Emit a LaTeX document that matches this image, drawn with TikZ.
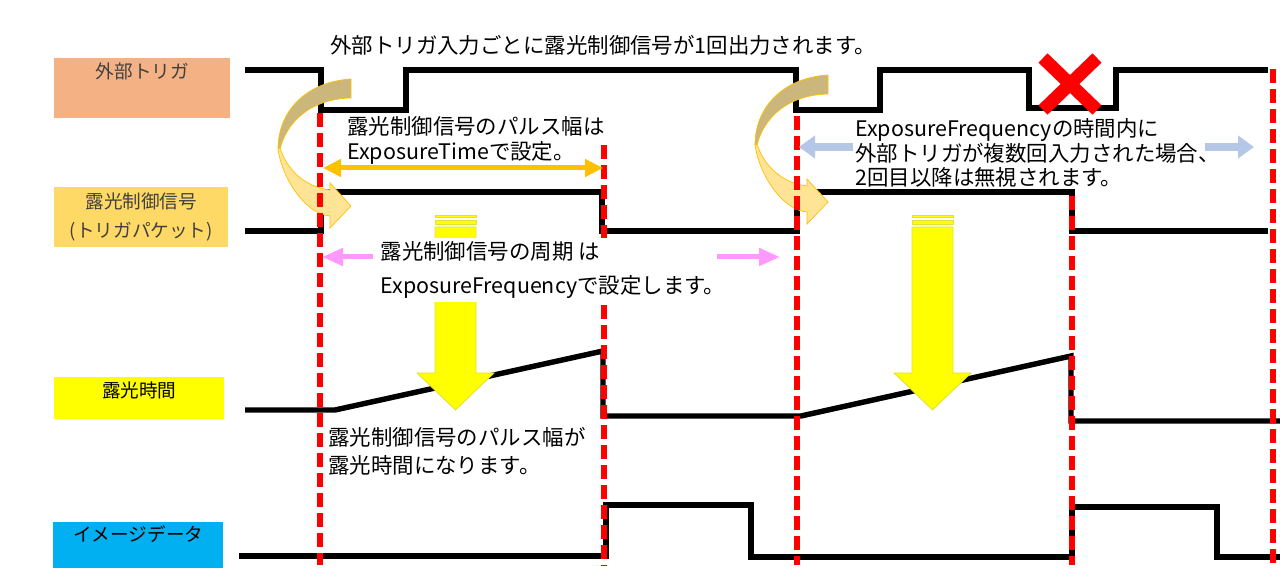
\documentclass[tikz,border=0pt]{standalone}
\usepackage{fontspec}
\newfontfamily\jpfont{Noto Sans CJK JP}
\usetikzlibrary{arrows.meta,positioning}

\definecolor{trigcol}{RGB}{244,177,131}
\definecolor{ctrlcol}{RGB}{255,217,102}
\definecolor{expcol}{RGB}{255,255,0}
\definecolor{imgcol}{RGB}{0,176,240}
\definecolor{pulsecol}{RGB}{255,192,0}
\definecolor{freqcol}{RGB}{255,153,255}
\definecolor{ignorecol}{RGB}{180,199,231}
\definecolor{backcol}{RGB}{203,182,124}
\definecolor{frontcol}{RGB}{255,228,150}
\definecolor{yedge}{RGB}{225,225,60}
\definecolor{txtgray}{RGB}{64,64,64}

\tikzset{
  box/.style={anchor=north west, inner sep=0pt},
  lbl/.style={font=\jpfont\fontsize{10.6pt}{16.5pt}\selectfont, inner sep=0pt, align=center},
  note/.style={font=\jpfont\fontsize{12.2pt}{#1}\selectfont, inner sep=0pt, align=left, anchor=west},
  note/.default=14.2pt,
  wave/.style={line width=3.1pt, line join=miter},
  cutline/.style={red, line width=2.9pt, dash pattern=on 0.28cm off 0.12cm},
  yarrow/.style={fill=expcol, draw=yedge, line width=0.5pt},
  pulsearrow/.style={pulsecol, line width=0.1cm, {Triangle[length=0.36cm,width=0.34cm]}-{Triangle[length=0.36cm,width=0.34cm]}},
  freqarrow/.style={freqcol, line width=0.1cm, -{Triangle[length=0.42cm,width=0.34cm]}},
  ignorearrow/.style={ignorecol, line width=0.16cm, -{Triangle[length=0.32cm,width=0.44cm]}}
}

\begin{document}
\begin{tikzpicture}[x=0.02cm, y=-0.02cm]
    \useasboundingbox (0,0) rectangle (1280,580);

    % signal names
    \node[box, fill=trigcol, minimum width=3.52cm, minimum height=1.2cm] (trigbox) at (54,58) {};
    \node[lbl, text=txtgray, below=0.09cm of trigbox.north] (trigtxt) {外部トリガ};
    \node[box, lbl, fill=ctrlcol, text=txtgray, minimum width=3.48cm, minimum height=1.2cm] (ctrlbox) at (54,187) {露光制御信号\\(トリガパケット)};
    \node[box, fill=expcol, minimum width=3.4cm, minimum height=0.84cm] (expbox) at (54,377) {};
    \node[lbl, below=0.09cm of expbox.north] (exptxt) {露光時間};
    \node[box, fill=imgcol, minimum width=3.4cm, minimum height=0.92cm] (imgbox) at (53,522) {};
    \node[lbl, below=0.075cm of imgbox.north] (imgtxt) {イメージデータ};

    % waveforms
    \draw[wave] (245,70) -- (321,70) -- (321,110) -- (406,110) -- (406,70) -- (796,70) -- (796,110) -- (880,110) -- (880,70)
        -- (1029,70) -- (1029,108) -- (1116,108) -- (1116,70) -- (1268,70);
    \draw[wave] (245,231) -- (321,231) -- (321,192) -- (602,192) -- (602,231) -- (797,231) -- (797,192) -- (1072,192)
        -- (1072,231) -- (1268,231);
    \draw[wave] (245,410) -- (335,410) -- (603,351) -- (603,416) -- (801,416) -- (1071,356) -- (1071,421) -- (1280,421);
    \draw[wave] (239,556) -- (606,556) -- (606,505) -- (751,505) -- (751,557) -- (1072,557) -- (1072,507) -- (1217,507)
        -- (1217,557) -- (1280,557);

    % curved arrows
    \foreach \dx/\dy in {0/0,477/-4} {
      \begin{scope}[shift={(\dx,\dy)}]
        \fill[backcol, draw=pulsecol, line width=0.4pt] (351,79) .. controls (305,82) and (278,112) .. (278,149)
            -- (280,149) .. controls (287,122) and (310,99) .. (351,98) -- cycle;
        \fill[frontcol, draw=pulsecol, line width=0.4pt] (278,149) .. controls (282,178) and (305,214) .. (330,216)
            -- (330,228) -- (351,206) -- (330,183) -- (330,190) .. controls (305,187) and (287,170) .. (280,148) -- cycle;
      \end{scope}
    }

    % yellow arrows
    \foreach \ax in {455.5,932.5} {
      \draw[yarrow] (\ax-20.5,215) rectangle (\ax+20.5,217.5);
      \draw[yarrow] (\ax-20.5,220) rectangle (\ax+20.5,224.5);
      \draw[yarrow] (\ax-20.5,227) -- (\ax+20.5,227) -- (\ax+20.5,373) -- (\ax+38.5,373) -- (\ax,410)
          -- (\ax-38.5,373) -- (\ax-20.5,373) -- cycle;
    }

    % timing lines
    \foreach \cx/\ys in {320/113,604/145,797/116,1072/196,1273/69}
      \draw[cutline] (\cx,\ys) -- (\cx,565);

    % ignored trigger
    \draw[red, line width=0.26cm] (1043,58) -- (1097,110) (1097,58) -- (1043,110);

    % texts
    \node[note] (toptxt) at (330,45) {外部トリガ入力ごとに露光制御信号が1回出力されます。};
    \node[note] (widthtxt) at (347,140) {露光制御信号のパルス幅は\\ExposureTimeで設定。};
    \node[note=19.4pt, fill=white, inner xsep=3pt, minimum height=1.3cm] (freqtxt) at (375,270)
        {露光制御信号の周期 は\\ExposureFrequencyで設定します。};
    \node[note=14pt] (ignoretxt) at (855,153) {ExposureFrequencyの時間内に\\外部トリガが複数回入力された場合、\\2回目以降は無視されます。};
    \node[note=16pt] (resulttxt) at (328,451) {露光制御信号のパルス幅が\\露光時間になります。};

    % arrows
    \coordinate (pwL) at (323,168);
    \coordinate (pwR) at (603,168);
    \draw[pulsearrow] (pwL) -- (pwR);

    \coordinate (freqLs) at (373,257);
    \coordinate (freqL) at (322,257);
    \coordinate (freqRs) at (717,257);
    \coordinate (freqR) at (780,257);
    \draw[freqarrow] (freqLs) -- (freqL);
    \draw[freqarrow] (freqRs) -- (freqR);

    \coordinate (ignLs) at (853,147);
    \coordinate (ignL) at (799,147);
    \coordinate (ignRs) at (1205,147);
    \coordinate (ignR) at (1254,147);
    \draw[ignorearrow] (ignLs) -- (ignL);
    \draw[ignorearrow] (ignRs) -- (ignR);
\end{tikzpicture}
\end{document}
